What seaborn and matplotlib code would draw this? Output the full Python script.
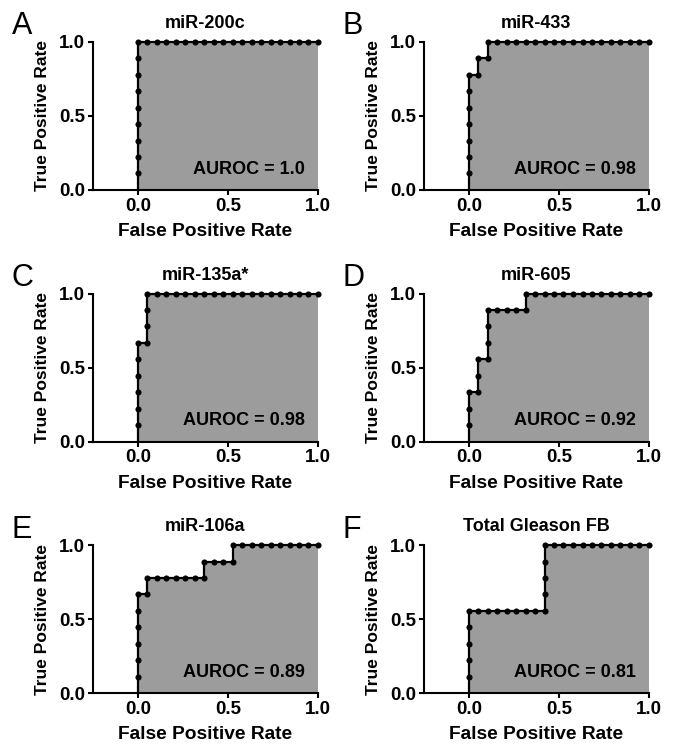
import matplotlib
matplotlib.use("Agg")
import matplotlib.pyplot as plt
import seaborn as sns
import pandas as pd

sns.set_style("ticks")
plt.rcParams["font.family"] = ["Liberation Sans", "DejaVu Sans"]
plt.rcParams["text.color"] = "black"
plt.rcParams["axes.labelcolor"] = "black"

# ROC points (FPR, TPR); the curve starts at the origin
fpr_200c = [0.0, 0.0, 0.0, 0.0, 0.0, 0.0, 0.0, 0.0, 0.0, 0.0,
            0.053, 0.105, 0.158, 0.211, 0.263, 0.316, 0.368, 0.421, 0.474,
            0.526, 0.579, 0.632, 0.684, 0.737, 0.789, 0.842, 0.895, 0.947, 1.0]
tpr_200c = [0.0, 0.111, 0.222, 0.333, 0.444, 0.556, 0.667, 0.778, 0.889, 1.0,
            1.0, 1.0, 1.0, 1.0, 1.0, 1.0, 1.0, 1.0, 1.0,
            1.0, 1.0, 1.0, 1.0, 1.0, 1.0, 1.0, 1.0, 1.0, 1.0]

fpr_433 = [0.0, 0.0, 0.0, 0.0, 0.0, 0.0, 0.0, 0.0, 0.053, 0.053, 0.105, 0.105,
           0.158, 0.211, 0.263, 0.316, 0.368, 0.421, 0.474,
           0.526, 0.579, 0.632, 0.684, 0.737, 0.789, 0.842, 0.895, 0.947, 1.0]
tpr_433 = [0.0, 0.111, 0.222, 0.333, 0.444, 0.556, 0.667, 0.778, 0.778, 0.889, 0.889, 1.0,
           1.0, 1.0, 1.0, 1.0, 1.0, 1.0, 1.0,
           1.0, 1.0, 1.0, 1.0, 1.0, 1.0, 1.0, 1.0, 1.0, 1.0]

fpr_135a = [0.0, 0.0, 0.0, 0.0, 0.0, 0.0, 0.0, 0.053, 0.053, 0.053, 0.053,
            0.105, 0.158, 0.211, 0.263, 0.316, 0.368, 0.421, 0.474,
            0.526, 0.579, 0.632, 0.684, 0.737, 0.789, 0.842, 0.895, 0.947, 1.0]
tpr_135a = [0.0, 0.111, 0.222, 0.333, 0.444, 0.556, 0.667, 0.667, 0.778, 0.889, 1.0,
            1.0, 1.0, 1.0, 1.0, 1.0, 1.0, 1.0, 1.0,
            1.0, 1.0, 1.0, 1.0, 1.0, 1.0, 1.0, 1.0, 1.0, 1.0]

fpr_605 = [0.0, 0.0, 0.0, 0.0, 0.053, 0.053, 0.053, 0.105, 0.105, 0.105, 0.105,
           0.158, 0.211, 0.263, 0.316, 0.316, 0.368, 0.421, 0.474,
           0.526, 0.579, 0.632, 0.684, 0.737, 0.789, 0.842, 0.895, 0.947, 1.0]
tpr_605 = [0.0, 0.111, 0.222, 0.333, 0.333, 0.444, 0.556, 0.556, 0.667, 0.778, 0.889,
           0.889, 0.889, 0.889, 0.889, 1.0, 1.0, 1.0, 1.0,
           1.0, 1.0, 1.0, 1.0, 1.0, 1.0, 1.0, 1.0, 1.0, 1.0]

fpr_106a = [0.0, 0.0, 0.0, 0.0, 0.0, 0.0, 0.0, 0.053, 0.053,
            0.105, 0.158, 0.211, 0.263, 0.316, 0.368, 0.368,
            0.421, 0.474, 0.526, 0.526,
            0.579, 0.632, 0.684, 0.737, 0.789, 0.842, 0.895, 0.947, 1.0]
tpr_106a = [0.0, 0.111, 0.222, 0.333, 0.444, 0.556, 0.667, 0.667, 0.778,
            0.778, 0.778, 0.778, 0.778, 0.778, 0.778, 0.889,
            0.889, 0.889, 0.889, 1.0,
            1.0, 1.0, 1.0, 1.0, 1.0, 1.0, 1.0, 1.0, 1.0]

fpr_gleason = [0.0, 0.0, 0.0, 0.0, 0.0, 0.0,
               0.053, 0.105, 0.158, 0.211, 0.263, 0.316, 0.368, 0.421,
               0.421, 0.421, 0.421, 0.421,
               0.474, 0.526, 0.579, 0.632, 0.684, 0.737, 0.789, 0.842, 0.895, 0.947, 1.0]
tpr_gleason = [0.0, 0.111, 0.222, 0.333, 0.444, 0.556,
               0.556, 0.556, 0.556, 0.556, 0.556, 0.556, 0.556, 0.556,
               0.667, 0.778, 0.889, 1.0,
               1.0, 1.0, 1.0, 1.0, 1.0, 1.0, 1.0, 1.0, 1.0, 1.0, 1.0]

panel_letters = ["A", "B", "C", "D", "E", "F"]
titles = ["miR-200c", "miR-433", "miR-135a*", "miR-605", "miR-106a", "Total Gleason FB"]
aurocs = ["1.0", "0.98", "0.98", "0.92", "0.89", "0.81"]
curves = [(fpr_200c, tpr_200c), (fpr_433, tpr_433), (fpr_135a, tpr_135a),
          (fpr_605, tpr_605), (fpr_106a, tpr_106a), (fpr_gleason, tpr_gleason)]

fill_color = "#9c9c9c"

fig, axes = plt.subplots(3, 2, figsize=(6.78, 7.47), dpi=100)
fig.subplots_adjust(left=0.137, right=0.957, top=0.944, bottom=0.072,
                    wspace=0.47, hspace=0.70)

for ax, letter, title, auc, (fpr, tpr) in zip(axes.flat, panel_letters, titles, aurocs, curves):
    df = pd.DataFrame({"FPR": fpr, "TPR": tpr})
    ax.fill_between(df["FPR"], 0, df["TPR"], color=fill_color, linewidth=0, zorder=1)
    sns.lineplot(data=df, x="FPR", y="TPR", sort=False, estimator=None, ax=ax,
                 color="black", linewidth=1.6, marker="o", markersize=4.4,
                 markeredgewidth=0, markevery=list(range(1, len(df))),
                 zorder=3, clip_on=False)

    ax.set_xlim(-0.25, 1.0)
    ax.set_ylim(0, 1.0)
    ax.set_xticks([0.0, 0.5, 1.0])
    ax.set_yticks([0.0, 0.5, 1.0])
    ax.set_xticklabels(["0.0", "0.5", "1.0"])
    ax.set_yticklabels(["0.0", "0.5", "1.0"])
    sns.despine(ax=ax)
    for side in ["left", "bottom"]:
        ax.spines[side].set_linewidth(1.5)
        ax.spines[side].set_color("black")
    ax.tick_params(axis="both", direction="out", length=3.5, width=1.5,
                   colors="black", labelsize=13.5, pad=2)
    for lab in ax.get_xticklabels() + ax.get_yticklabels():
        lab.set_fontweight("bold")

    ax.set_xlabel("False Positive Rate", fontsize=13.8, fontweight="bold", labelpad=6)
    ax.set_ylabel("True Positive Rate", fontsize=12.5, fontweight="bold", labelpad=6.5)
    ax.set_title(title, fontsize=13, fontweight="bold", pad=10, color="black")
    ax.text(0.93, 0.14, f"AUROC = {auc}", ha="right", va="center",
            fontsize=13, fontweight="bold", zorder=4, color="black")
    ax.text(-0.36, 1.05, letter, transform=ax.transAxes, fontsize=22,
            ha="left", va="baseline", color="black")

fig.savefig("out.png", dpi=100)
